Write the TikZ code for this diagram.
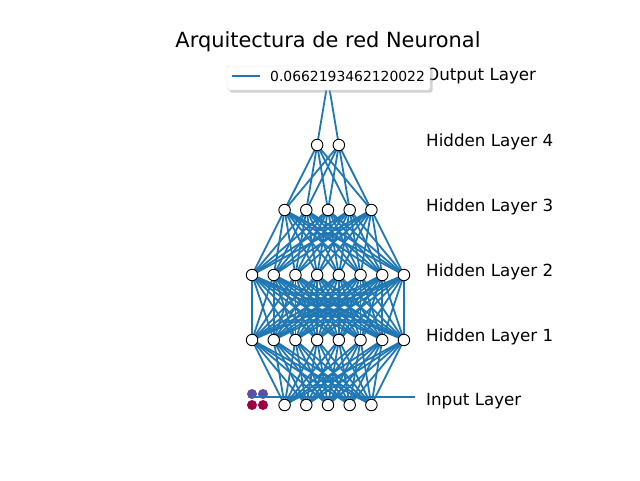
\documentclass[tikz,border=0pt]{standalone}
\usepackage{fontspec}
\setmainfont{DejaVu Sans}
\usetikzlibrary{backgrounds,shadows}
\definecolor{mplblue}{HTML}{1F77B4}
\definecolor{dotpurple}{HTML}{5E4FA2}
\definecolor{dotred}{HTML}{9E0142}
\tikzset{
  neuron/.style={circle,draw=black,fill=white,inner sep=0pt,minimum size=11.5pt,line width=0.9pt},
  synapse/.style={mplblue,line width=1.8pt},
  layername/.style={anchor=west,inner sep=0pt,font=\fontsize{16.7}{20}\selectfont},
  sample/.style={circle,inner sep=0pt,minimum size=10pt},
}
\begin{document}
\begin{tikzpicture}[x=1pt,y=-1pt]
  \useasboundingbox (0,0) rectangle (640,480);
  % title
  \node[font=\fontsize{20.9}{25}\selectfont] (title) at (328,42) {Arquitectura de red Neuronal};

  % neurons, layer by layer
  \foreach \lay/\num/\ypos in {in/5/405, hA/8/340, hB/8/275, hC/5/210, hD/2/145, out/1/80}
    \foreach \i in {1,...,\num}
      \node[neuron] (\lay\i) at ({328+(\i-(\num+1)/2)*21.7},\ypos) {};

  % connections
  \begin{pgfonlayer}{background}
    \foreach \a/\na/\b/\nb in {in/5/hA/8, hA/8/hB/8, hB/8/hC/5, hC/5/hD/2, hD/2/out/1}
      \foreach \i in {1,...,\na}
        \foreach \j in {1,...,\nb}
          \draw[synapse] (\a\i.center) -- (\b\j.center);
  \end{pgfonlayer}

  % sample points
  \node[sample,fill=dotred] (r1) at (252,405) {};
  \node[sample,fill=dotred] (r2) at (263,405) {};
  \node[sample,fill=dotpurple] (p1) at (252,394) {};
  \node[sample,fill=dotpurple] (p2) at (263,394) {};
  \coordinate (lineL) at (252,397);
  \coordinate (lineR) at (415,397);
  \draw[synapse] (lineL) -- (lineR);

  % layer names
  \node[layername] (nIn) at (426,401.5) {Input Layer};
  \node[layername] (nA) at (426,336.5) {Hidden Layer 1};
  \node[layername] (nB) at (426,271.5) {Hidden Layer 2};
  \node[layername] (nC) at (426,206.5) {Hidden Layer 3};
  \node[layername] (nD) at (426,141.5) {Hidden Layer 4};
  \node[layername] (nOut) at (426,76.5) {Output Layer};

  % legend
  \node[draw=gray!30,fill=white,rounded corners=2pt,
        drop shadow={shadow xshift=2.5pt,shadow yshift=-2.5pt,fill=gray!70},
        minimum width=203pt,minimum height=24pt] (legend) at (328.5,78) {};
  \coordinate (keyL) at (232,76);
  \coordinate (keyR) at (260,76);
  \draw[synapse] (keyL) -- (keyR);
  \node[anchor=west,inner sep=0pt,font=\fontsize{13.9}{16}\selectfont] (keytext) at (270,76.5) {0.0662193462120022};
\end{tikzpicture}
\end{document}
